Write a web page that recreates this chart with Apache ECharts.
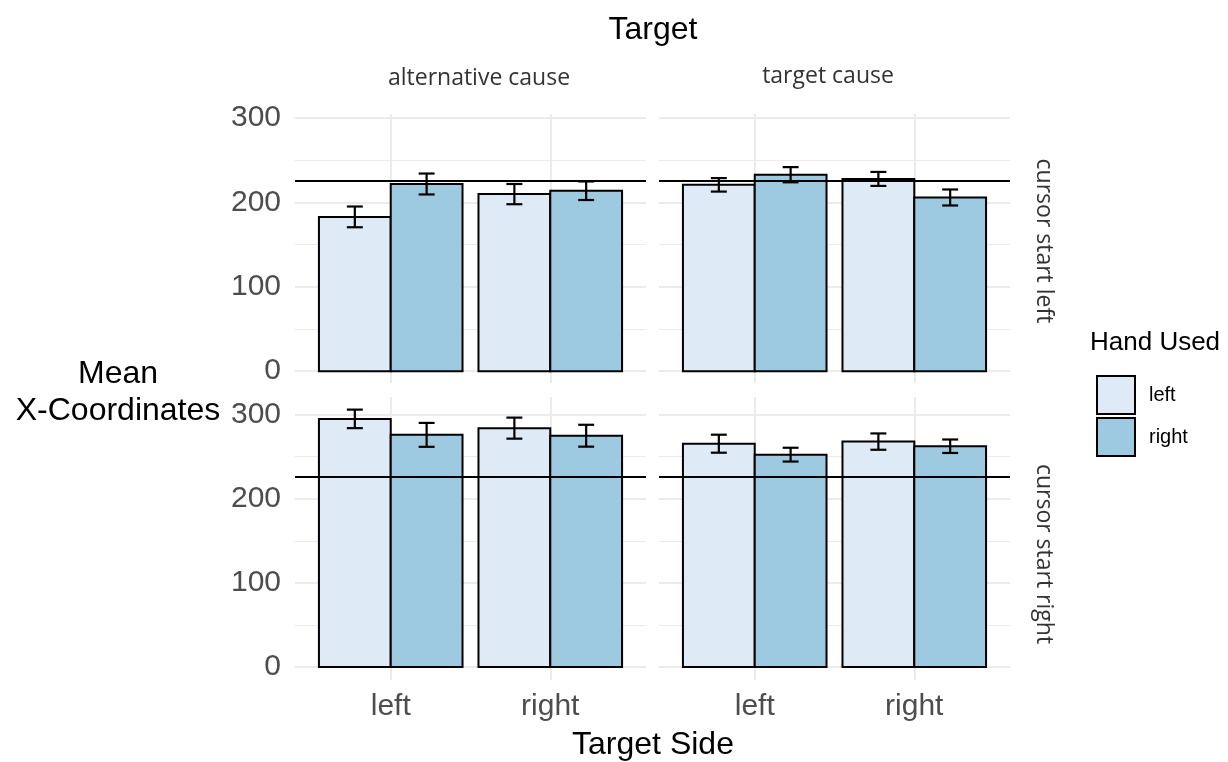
<!DOCTYPE html>
<html>
<head>
<meta charset="utf-8">
<script src="https://cdn.jsdelivr.net/npm/echarts@6/dist/echarts.min.js"></script>
<style>html,body{margin:0;padding:0;background:#fff}#c{width:1228px;height:762px}</style>
</head>
<body>
<div id="c"></div>
<script>
// ---- data ----
const targets = ['alternative cause', 'target cause'];
const cursorStarts = ['cursor start left', 'cursor start right'];
const targetSides = ['left', 'right'];
const hands = ['left', 'right'];
const yTicks = [0, 100, 200, 300];
const yMinorTicks = [50, 150, 250];
const referenceLine = 226;
// values per panel: [side left/hand left, side left/hand right, side right/hand left, side right/hand right]
const meanStartLeftAlt = [183, 222, 210, 214];
const seStartLeftAlt = [12.3, 12.4, 12, 11];
const meanStartLeftTarget = [221, 233, 228, 206];
const seStartLeftTarget = [8, 9, 8.3, 9.5];
const meanStartRightAlt = [295, 276, 284, 275];
const seStartRightAlt = [11, 14.2, 12.5, 13];
const meanStartRightTarget = [265.5, 252.5, 268, 262.5];
const seStartRightTarget = [10.7, 8.2, 9.7, 8];

const panels = [
  {row: 0, col: 0, mean: meanStartLeftAlt, se: seStartLeftAlt},
  {row: 0, col: 1, mean: meanStartLeftTarget, se: seStartLeftTarget},
  {row: 1, col: 0, mean: meanStartRightAlt, se: seStartRightAlt},
  {row: 1, col: 1, mean: meanStartRightTarget, se: seStartRightTarget}
];

// ---- layout ----
const handColors = ['#deebf7', '#9ecae1'];
const colLeft = [295, 659];
const colWidth = 351;
const rowTop = [114, 397];
const rowHeight = [269, 283];
const rowRange = [[-14, 305], [-15.3, 321]];
const barW = 0.45;

const grids = [], xAxes = [], yAxes = [], series = [];
panels.forEach((p, i) => {
  grids.push({left: colLeft[p.col], top: rowTop[p.row], width: colWidth, height: rowHeight[p.row], containLabel: false});
  xAxes.push({
    type: 'value', gridIndex: i, min: 0.4, max: 2.6,
    axisLine: {show: false}, axisTick: {show: false}, splitLine: {show: false},
    axisLabel: {
      show: p.row === 1, customValues: [1, 2], margin: 12,
      formatter: v => targetSides[Math.round(v) - 1] || '',
      fontSize: 30, color: '#4d4d4d', fontFamily: 'Liberation Sans, Arial, sans-serif'
    }
  });
  yAxes.push({
    type: 'value', gridIndex: i, min: rowRange[p.row][0], max: rowRange[p.row][1],
    axisLine: {show: false}, axisTick: {show: false}, splitLine: {show: false},
    axisLabel: {
      show: p.col === 0, customValues: yTicks, margin: 14,
      fontSize: 30, color: '#4d4d4d', fontFamily: 'Liberation Sans, Arial, sans-serif'
    }
  });
  // grid lines
  const gl = [];
  yMinorTicks.forEach(v => gl.push({yAxis: v, lineStyle: {color: '#ebebeb', width: 1.2, type: 'solid'}}));
  yTicks.forEach(v => gl.push({yAxis: v, lineStyle: {color: '#ebebeb', width: 2, type: 'solid'}}));
  [1, 2].forEach(v => gl.push({xAxis: v, lineStyle: {color: '#ebebeb', width: 2, type: 'solid'}}));
  series.push({
    type: 'line', xAxisIndex: i, yAxisIndex: i, data: [], silent: true, z: 0,
    markLine: {z: 0, silent: true, symbol: ['none', 'none'], label: {show: false}, animation: false, data: gl}
  });
  hands.forEach((h, hi) => {
    const data = targetSides.map((s, si) => [si + 1, p.mean[si * 2 + hi], p.se[si * 2 + hi]]);
    const off = hi === 0 ? -barW : 0;
    series.push({
      name: h, type: 'custom', xAxisIndex: i, yAxisIndex: i, z: 2,
      itemStyle: {color: handColors[hi], borderColor: '#000', borderWidth: 2},
      encode: {x: 0, y: 1},
      data: data,
      renderItem: (params, api) => {
        const x = api.value(0), v = api.value(1);
        const a = api.coord([x + off, v]);
        const b = api.coord([x + off + barW, 0]);
        return {type: 'rect', shape: {x: a[0], y: a[1], width: b[0] - a[0], height: b[1] - a[1]},
          style: {fill: handColors[hi], stroke: '#000', lineWidth: 2}};
      }
    });
    series.push({
      type: 'custom', xAxisIndex: i, yAxisIndex: i, z: 3, silent: true, clip: false,
      encode: {x: 0, y: 1},
      data: data,
      renderItem: (params, api) => {
        const x = api.value(0) + off + barW / 2, v = api.value(1), e = api.value(2);
        const top = api.coord([x, v + e]), bot = api.coord([x, v - e]);
        const l = api.coord([x - 0.05, v])[0], r = api.coord([x + 0.05, v])[0];
        const st = {stroke: '#000', lineWidth: 2.2};
        return {type: 'group', children: [
          {type: 'line', shape: {x1: top[0], y1: top[1], x2: bot[0], y2: bot[1]}, style: st},
          {type: 'line', shape: {x1: l, y1: top[1], x2: r, y2: top[1]}, style: st},
          {type: 'line', shape: {x1: l, y1: bot[1], x2: r, y2: bot[1]}, style: st}
        ]};
      }
    });
  });
  series.push({
    type: 'line', xAxisIndex: i, yAxisIndex: i, data: [], silent: true, z: 10,
    markLine: {z: 10, silent: true, symbol: ['none', 'none'], label: {show: false}, animation: false,
      data: [{yAxis: referenceLine, lineStyle: {color: '#000', width: 2, type: 'solid'}}]}
  });
});

const txt = (text, x, y, size, color, family, extra) => Object.assign({
  type: 'text', x: x, y: y,
  style: {text: text, fontSize: size, fill: color, fontFamily: family, textAlign: 'center', textVerticalAlign: 'middle'}
}, extra || {});
const sans = 'Liberation Sans, Arial, sans-serif';
const strip = 'Open Sans, Noto Sans, sans-serif';

const option = {
  animation: false,
  backgroundColor: '#fff',
  grid: grids, xAxis: xAxes, yAxis: yAxes, series: series,
  legend: {
    orient: 'vertical', left: 1091, top: 370, itemWidth: 38, itemHeight: 38, itemGap: 2,
    selectedMode: false,
    textStyle: {fontSize: 20, color: '#000', fontFamily: sans, padding: [0, 0, 0, 9]},
    data: hands.map((h, hi) => ({name: h, icon: 'rect',
      itemStyle: {color: handColors[hi], borderColor: '#000', borderWidth: 2}}))
  },
  graphic: [
    txt('Target', 653, 30, 32, '#000', sans),
    txt(targets[0], 479, 78, 23, '#333', strip),
    txt(targets[1], 828, 76, 23, '#333', strip),
    txt(cursorStarts[0], 1044, 241, 23, '#333', strip, {rotation: -Math.PI / 2}),
    txt(cursorStarts[1], 1044, 554, 23, '#333', strip, {rotation: -Math.PI / 2}),
    txt('Mean', 118, 374, 32, '#000', sans),
    txt('X-Coordinates', 118, 411, 32, '#000', sans),
    txt('Target Side', 653, 745, 32, '#000', sans),
    {type: 'text', left: 1090, top: 330, style: {text: 'Hand Used', fontSize: 26, fill: '#000', fontFamily: sans}}
  ]
};
const chart = echarts.init(document.getElementById('c'), null, {renderer: 'canvas'});
chart.setOption(option);
</script>
</body>
</html>
